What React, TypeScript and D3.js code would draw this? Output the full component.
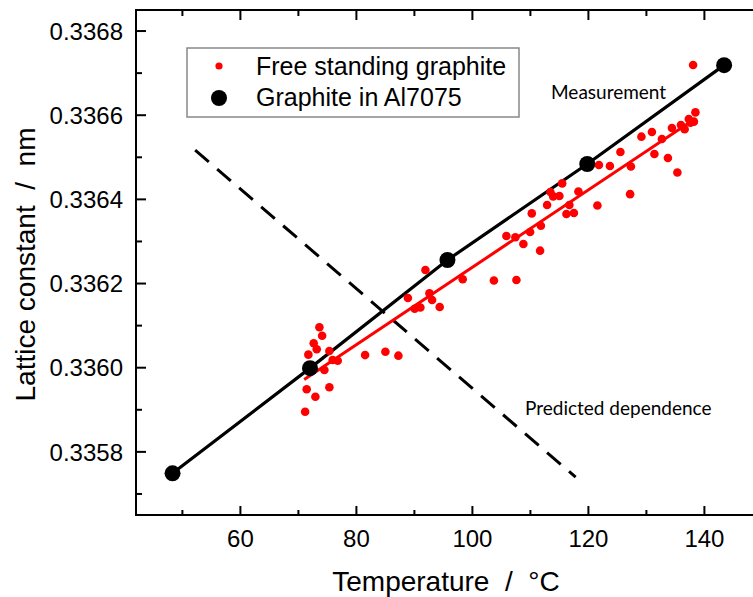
import React from "react";
import * as d3 from "d3";

const xMajor = [60, 80, 100, 120, 140];
const xMinor = [50, 70, 90, 110, 130, 150];
const yMajor = [0.3358, 0.336, 0.3362, 0.3364, 0.3366, 0.3368];
const yMinor = [0.3357, 0.3359, 0.3361, 0.3363, 0.3365, 0.3367];

// Free standing graphite (red dots)
const freeT = [
  71.16, 71.43, 72.93, 75.34, 74.48, 71.72, 72.64, 73.16, 73.62, 74.09, 75.34, 75.91, 76.78,
  81.5, 85.0, 87.24, 88.88, 90.05, 91.03, 91.9, 92.59, 93.05, 94.36, 98.33, 103.71, 107.59,
  105.86, 107.41, 108.79, 109.95, 111.67, 111.81, 110.24, 112.88, 113.93, 115.0, 113.45, 115.48,
  116.21, 117.5, 116.72, 118.28, 121.81, 123.71, 125.52, 127.33, 127.19, 121.55, 129.14, 130.95,
  131.38, 132.67, 133.71, 135.34, 134.4, 135.95, 136.59, 137.31, 138.19, 138.45, 138.05, 137.6,
];
const freeL = [
  0.3358955, 0.3359487, 0.3359311, 0.3359535, 0.3359946, 0.336031, 0.336058, 0.3360438, 0.336096,
  0.336076, 0.3360397, 0.3360183, 0.3360167, 0.33603, 0.336038, 0.3360286, 0.3361657, 0.33614,
  0.3361431, 0.3362322, 0.3361769, 0.336161, 0.3361443, 0.3362101, 0.3362073, 0.3362085, 0.336313,
  0.33631, 0.336294, 0.3363225, 0.3362781, 0.3363375, 0.3363667, 0.3363867, 0.3364071, 0.336408,
  0.3364176, 0.336438, 0.3363653, 0.3363677, 0.3363867, 0.3364188, 0.3364817, 0.3364794, 0.3365126,
  0.336478, 0.3364124, 0.3363855, 0.336549, 0.3365602, 0.3365079, 0.3365435, 0.3364984, 0.3364639,
  0.3365697, 0.3365768, 0.3365668, 0.3365911, 0.3365847, 0.3366067, 0.3367194, 0.336582,
];

// Graphite in Al7075 (black dots)
const alT = [48.3, 72.0, 95.7, 119.8, 143.4];
const alL = [0.335749, 0.335999, 0.336256, 0.336484, 0.336719];

// Linear fit of free standing graphite
const fitT = [71.0, 138.2];
const fitL = [0.335972, 0.33659];

// Predicted dependence (dashed)
const predT = [52.2, 117.8];
const predL = [0.336517, 0.33574];

const W = 753;
const H = 597;

export default function App() {
  const x = d3.scaleLinear().domain([42, 150]).range([136, 762.4]);
  const y = d3.scaleLinear().domain([0.33565, 0.33685]).range([515, 10]);
  const left = x(42);
  const right = x(150);
  const top = y(0.33685);
  const bottom = y(0.33565);

  const line = d3
    .line<[number, number]>()
    .x((d) => x(d[0]))
    .y((d) => y(d[1]));

  const alPts = alT.map((t, i) => [t, alL[i]] as [number, number]);
  const fitPts = fitT.map((t, i) => [t, fitL[i]] as [number, number]);
  const predPts = predT.map((t, i) => [t, predL[i]] as [number, number]);

  const sans = "'Liberation Sans', Arial, Helvetica, sans-serif";
  const ann = "Lato, 'Open Sans', sans-serif";

  return (
    <svg
      width={W}
      height={H}
      style={{ position: "absolute", left: 0, top: 0, display: "block", background: "#fff" }}
    >
      <rect x={0} y={0} width={W} height={H} fill="#fff" />
      {/* ticks */}
      <g stroke="#000" strokeWidth={2}>
        {xMajor.map((t) => (
          <g key={"xM" + t}>
            <line x1={x(t)} x2={x(t)} y1={bottom} y2={bottom - 9} />
            <line x1={x(t)} x2={x(t)} y1={top} y2={top + 10} />
          </g>
        ))}
        {xMinor.map((t) => (
          <g key={"xm" + t}>
            <line x1={x(t)} x2={x(t)} y1={bottom} y2={bottom - 5} />
            <line x1={x(t)} x2={x(t)} y1={top} y2={top + 6} />
          </g>
        ))}
        {yMajor.map((v) => (
          <line key={"yM" + v} x1={left} x2={left + 10} y1={y(v)} y2={y(v)} />
        ))}
        {yMinor.map((v) => (
          <line key={"ym" + v} x1={left} x2={left + 6} y1={y(v)} y2={y(v)} />
        ))}
      </g>
      {/* frame */}
      <rect
        x={left}
        y={top}
        width={right - left}
        height={bottom - top}
        fill="none"
        stroke="#000"
        strokeWidth={2}
      />
      {/* tick labels */}
      <g fontFamily={sans} fontSize={24} fill="#000">
        {xMajor.map((t) => (
          <text key={"xl" + t} x={x(t)} y={547} textAnchor="middle">
            {t}
          </text>
        ))}
        {yMajor.map((v) => (
          <text key={"yl" + v} x={123} y={y(v)} dy="0.36em" textAnchor="end">
            {v.toFixed(4)}
          </text>
        ))}
      </g>
      {/* axis titles */}
      <text
        x={446}
        y={591}
        textAnchor="middle"
        fontFamily={sans}
        fontSize={28}
        style={{ whiteSpace: "pre" }}
      >
        {"Temperature  /  °C"}
      </text>
      <text
        transform={`translate(35, ${(top + bottom) / 2 + 2}) rotate(-90)`}
        textAnchor="middle"
        fontFamily={sans}
        fontSize={28}
        style={{ whiteSpace: "pre" }}
      >
        {"Lattice constant  /  nm"}
      </text>

      {/* predicted dependence dashed */}
      <path
        d={line(predPts) || ""}
        fill="none"
        stroke="#000"
        strokeWidth={3}
        strokeDasharray="18 11"
      />
      {/* measurement line */}
      <path d={line(alPts) || ""} fill="none" stroke="#000" strokeWidth={3.2} />
      {/* red fit */}
      <path d={line(fitPts) || ""} fill="none" stroke="#ff0000" strokeWidth={3} />
      {/* red dots */}
      {freeT.map((t, i) => (
        <circle key={"r" + i} cx={x(t)} cy={y(freeL[i])} r={4.3} fill="#ff0000" />
      ))}
      {/* black dots */}
      {alPts.map((d, i) => (
        <circle key={"b" + i} cx={x(d[0])} cy={y(d[1])} r={8} fill="#000" />
      ))}

      {/* annotations */}
      <text x={551} y={99} fontFamily={ann} fontSize={19} fill="#000">
        Measurement
      </text>
      <text x={525} y={415} fontFamily={ann} fontSize={19} fill="#000">
        Predicted dependence
      </text>

      {/* legend */}
      <rect x={187} y={48} width={332} height={69} fill="#fff" stroke="#888" strokeWidth={1.5} />
      <circle cx={219} cy={66} r={3.6} fill="#ff0000" />
      <circle cx={219} cy={98} r={8} fill="#000" />
      <g fontFamily={sans} fontSize={25} fill="#000">
        <text x={256} y={75}>
          Free standing graphite
        </text>
        <text x={256} y={106}>
          Graphite in Al7075
        </text>
      </g>
    </svg>
  );
}
